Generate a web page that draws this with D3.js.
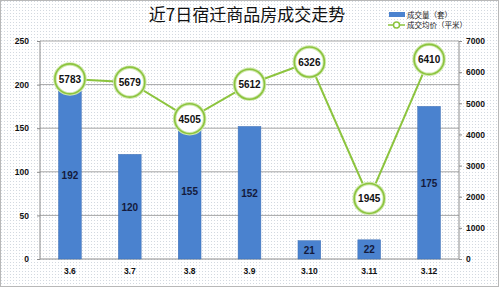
<!DOCTYPE html>
<html>
<head>
<meta charset="utf-8">
<script src="https://cdn.jsdelivr.net/npm/d3@7"></script>
<style>
  html, body { margin: 0; padding: 0; background: #fff; }
  svg { display: block; font-family: "Liberation Sans", Arial, sans-serif; }
</style>
</head>
<body>
<div id="chart"></div>
<script>
// Data
const days = ["3.6", "3.7", "3.8", "3.9", "3.10", "3.11", "3.12"];
const volumes = [192, 120, 155, 152, 21, 22, 175];
const prices = [5783, 5679, 4505, 5612, 6326, 1945, 6410];
const leftTicks = [0, 50, 100, 150, 200, 250];
const rightTicks = [0, 1000, 2000, 3000, 4000, 5000, 6000, 7000];

const W = 500, H = 289;
const margin = { top: 41, right: 41, bottom: 30, left: 40 };
const innerW = W - margin.left - margin.right;
const innerH = H - margin.top - margin.bottom;

const svg = d3.select("#chart").append("svg").attr("width", W).attr("height", H);

// dotted background pattern
const defs = svg.append("defs");
const pat = defs.append("pattern")
  .attr("id", "dots").attr("width", 3).attr("height", 3)
  .attr("patternUnits", "userSpaceOnUse");
pat.append("rect").attr("width", 3).attr("height", 3).attr("fill", "#fff");
pat.append("rect").attr("x", 1).attr("y", 1).attr("width", 1).attr("height", 1).attr("fill", "#d3d9e0");

svg.append("rect")
  .attr("x", 0.5).attr("y", 0.5).attr("width", W - 2).attr("height", H - 3)
  .attr("fill", "url(#dots)").attr("stroke", "#b8b8b8");

const g = svg.append("g").attr("transform", `translate(${margin.left},${margin.top})`);

const x = d3.scaleBand().domain(days).range([0, innerW]).paddingInner(0.62).paddingOuter(0.31);
const yL = d3.scaleLinear().domain([0, 250]).range([innerH, 0]);
const yR = d3.scaleLinear().domain([0, 7000]).range([innerH, 0]);

// gridlines
g.append("g").selectAll("line").data(leftTicks.slice(1)).join("line")
  .attr("x1", 0).attr("x2", innerW)
  .attr("y1", (d) => yL(d)).attr("y2", (d) => yL(d))
  .attr("stroke", "#a6a6a6").attr("stroke-width", 1);

// axes
const axisL = g.append("g").call(d3.axisLeft(yL).tickValues(leftTicks).tickSize(3).tickPadding(8));
const axisR = g.append("g").attr("transform", `translate(${innerW},0)`)
  .call(d3.axisRight(yR).tickValues(rightTicks).tickFormat(d3.format("d")).tickSize(3).tickPadding(4));
const axisB = g.append("g").attr("transform", `translate(0,${innerH})`)
  .call(d3.axisBottom(x).tickSize(0).tickPadding(9));

[axisL, axisR, axisB].forEach((a) => {
  a.select(".domain").attr("stroke", "#8c8c8c");
  a.selectAll(".tick line").attr("stroke", "#8c8c8c");
  a.selectAll("text").attr("font-size", 8.5).attr("font-weight", "bold").attr("fill", "#111");
});
axisL.select(".domain").attr("d", `M0,0V${innerH}`);
axisR.select(".domain").attr("d", `M0,0V${innerH}`);
axisB.select(".domain").attr("d", `M0,0H${innerW}`);

// bars
g.append("g").selectAll("rect").data(volumes).join("rect")
  .attr("x", (d, i) => x(days[i]))
  .attr("y", (d) => yL(d))
  .attr("width", x.bandwidth())
  .attr("height", (d) => innerH - yL(d))
  .attr("fill", "#4a82cf")
  .attr("stroke", "#3d6fb3").attr("stroke-width", 0.5);

g.append("g").selectAll("text").data(volumes).join("text")
  .attr("x", (d, i) => x(days[i]) + x.bandwidth() / 2)
  .attr("y", (d) => (yL(d) + innerH) / 2 + 4)
  .attr("text-anchor", "middle")
  .attr("font-size", 10).attr("font-weight", "bold").attr("fill", "#141a3c")
  .text((d) => d);

// price line
const line = d3.line()
  .x((d, i) => x(days[i]) + x.bandwidth() / 2)
  .y((d) => yR(d));
g.append("path").datum(prices)
  .attr("d", line).attr("fill", "none")
  .attr("stroke", "#8cc43e").attr("stroke-width", 2);

const markers = g.append("g").selectAll("g").data(prices).join("g")
  .attr("transform", (d, i) => `translate(${x(days[i]) + x.bandwidth() / 2},${yR(d)})`);
markers.append("circle").attr("r", 15)
  .attr("fill", "#fff").attr("stroke", "#cfe8ad").attr("stroke-width", 3.5);
markers.append("circle").attr("r", 15)
  .attr("fill", "none").attr("stroke", "#8cc43e").attr("stroke-width", 1.6);
markers.append("text")
  .attr("text-anchor", "middle").attr("dy", 4)
  .attr("font-size", 10).attr("font-weight", "bold").attr("fill", "#111")
  .text((d) => d);

// title
svg.append("text")
  .attr("x", 247).attr("y", 21)
  .attr("text-anchor", "middle")
  .attr("font-family", "'Noto Sans CJK SC', sans-serif")
  .attr("font-size", 17).attr("fill", "#111")
  .text("近7日宿迁商品房成交走势");

// legend
const lg = svg.append("g").attr("font-family", "'Noto Sans CJK SC', sans-serif");
lg.append("rect").attr("x", 389).attr("y", 12).attr("width", 16).attr("height", 5).attr("fill", "#4a82cf");
lg.append("text").attr("x", 407).attr("y", 17.5).attr("font-size", 7.5).attr("fill", "#222").text("成交量（套）");
lg.append("line").attr("x1", 388).attr("x2", 405).attr("y1", 25).attr("y2", 25)
  .attr("stroke", "#8cc43e").attr("stroke-width", 1.5);
lg.append("circle").attr("cx", 396.5).attr("cy", 25).attr("r", 3)
  .attr("fill", "#fff").attr("stroke", "#8cc43e").attr("stroke-width", 1.5);
lg.append("text").attr("x", 407).attr("y", 28).attr("font-size", 7.5).attr("fill", "#222").text("成交均价（平米）");
</script>
</body>
</html>
